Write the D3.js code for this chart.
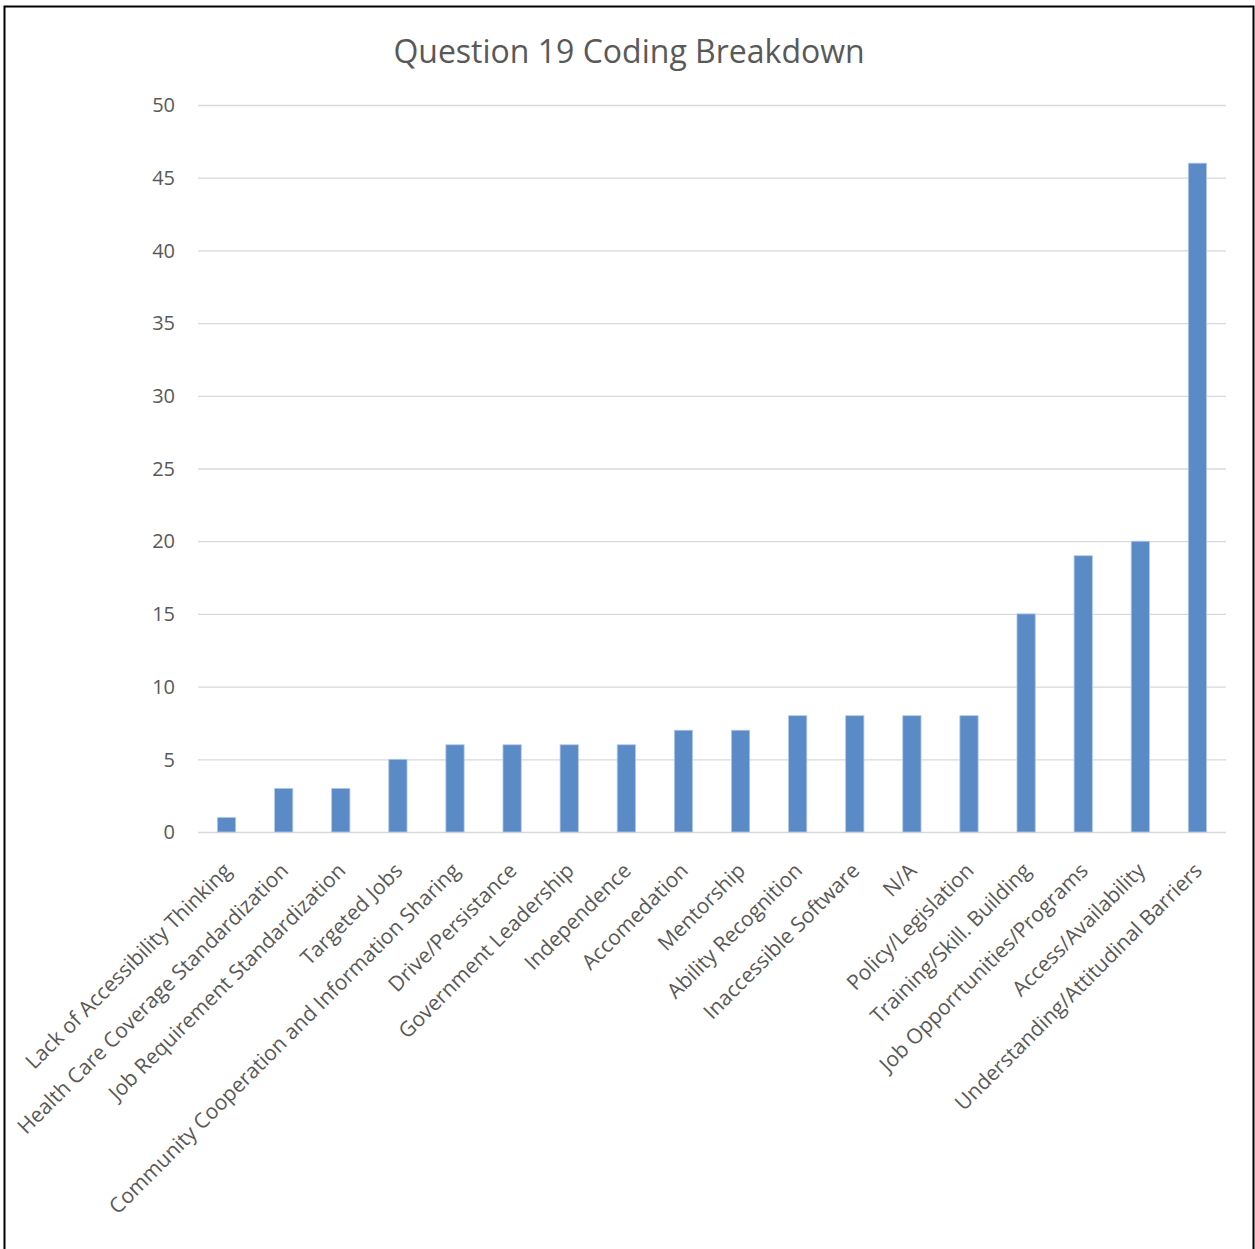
<!DOCTYPE html>
<html>
<head>
<meta charset="utf-8">
<script src="https://cdn.jsdelivr.net/npm/d3@7"></script>
<style>
  body { margin: 0; background: #fff; }
  svg { display: block; font-family: "Open Sans", sans-serif; }
</style>
</head>
<body>
<svg id="chart"></svg>
<script>
const categories = [
  "Lack of Accessibility  Thinking",
  "Health Care Coverage Standardization",
  "Job Requirement Standardization",
  "Targeted Jobs",
  "Community Cooperation and Information Sharing",
  "Drive/Persistance",
  "Government Leadership",
  "Independence",
  "Accomedation",
  "Mentorship",
  "Ability Recognition",
  "Inaccessible Software",
  "N/A",
  "Policy/Legislation",
  "Training/Skill. Building",
  "Job Opporrtunities/Programs",
  "Access/Availability",
  "Understanding/Attitudinal Barriers"
];
const counts = [1, 3, 3, 5, 6, 6, 6, 6, 7, 7, 8, 8, 8, 8, 15, 19, 20, 46];
const yTicks = [0, 5, 10, 15, 20, 25, 30, 35, 40, 45, 50];

const width = 1255;
const height = 1249;
const plotLeft = 198;
const plotRight = 1226;
const plotTop = 105;
const plotBottom = 832;

const svg = d3.select("#chart").attr("width", width).attr("height", height);

// outer frame
svg.append("rect")
  .attr("x", 4.5)
  .attr("y", 6.5)
  .attr("width", 1249)
  .attr("height", 1260)
  .attr("fill", "none")
  .attr("stroke", "#000")
  .attr("stroke-width", 2);

// title
svg.append("text")
  .text("Question 19 Coding Breakdown")
  .attr("x", 629)
  .attr("y", 63)
  .attr("text-anchor", "middle")
  .style("font-size", "32px")
  .style("fill", "#595959");

const x = d3.scaleBand()
  .domain(categories)
  .range([plotLeft, plotRight])
  .paddingInner(0.68)
  .paddingOuter(0.34);

const y = d3.scaleLinear().domain([0, 50]).range([plotBottom, plotTop]);

// gridlines
svg.append("g")
  .selectAll("line")
  .data(yTicks)
  .enter()
  .append("line")
  .attr("x1", plotLeft)
  .attr("x2", plotRight)
  .attr("y1", (d) => y(d) + 0.5)
  .attr("y2", (d) => y(d) + 0.5)
  .attr("stroke", "#d9d9d9")
  .attr("stroke-width", 1.3);

// y tick labels
svg.append("g")
  .selectAll("text")
  .data(yTicks)
  .enter()
  .append("text")
  .text((d) => d)
  .attr("x", 175)
  .attr("y", (d) => y(d))
  .attr("dy", "0.36em")
  .attr("text-anchor", "end")
  .style("font-size", "20px")
  .style("fill", "#595959");

// bars
svg.append("g")
  .selectAll("rect")
  .data(counts)
  .enter()
  .append("rect")
  .attr("x", (d, i) => x(categories[i]))
  .attr("y", (d) => y(d))
  .attr("width", x.bandwidth())
  .attr("height", (d) => plotBottom - y(d))
  .attr("fill", "#5b8bc6")
  .attr("stroke", "#b4c9e6")
  .attr("stroke-width", 0.8);

// category labels, rotated
svg.append("g")
  .selectAll("text")
  .data(categories)
  .enter()
  .append("text")
  .text((d) => d)
  .attr("transform", (d) => {
    const cx = x(d) + x.bandwidth() / 2 + 6;
    return `translate(${cx},${plotBottom + 40}) rotate(-45)`;
  })
  .attr("text-anchor", "end")
  .style("font-size", "21px")
  .style("fill", "#595959");
</script>
</body>
</html>
